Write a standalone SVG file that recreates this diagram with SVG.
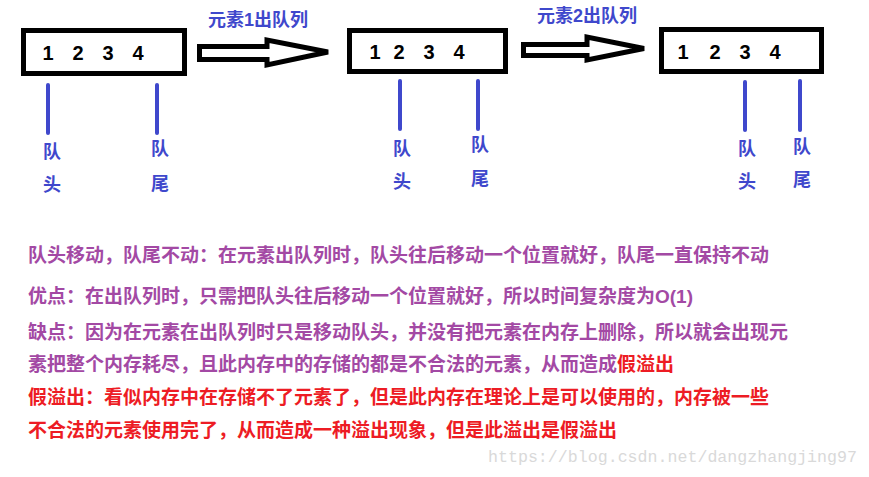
<svg xmlns="http://www.w3.org/2000/svg" width="869" height="477" viewBox="0 0 869 477">
<style>
.box{fill:#fff;stroke:#000;stroke-width:5}
.num{font-family:"Liberation Sans","Noto Sans",sans-serif;font-weight:bold;font-size:20px;fill:#000;text-anchor:middle}
.ptr{stroke:#3f48cc;stroke-width:4;stroke-linecap:round}
.lbl{font-family:"Liberation Sans","Noto Sans CJK SC",sans-serif;font-weight:bold;font-size:18px;fill:#3f48cc;text-anchor:middle}
.arrow{fill:#fff;stroke:#000;stroke-width:5;stroke-linejoin:miter}
.note{font-family:"Liberation Sans","Noto Sans CJK SC",sans-serif;font-weight:bold;font-size:19px}
.p{fill:#a349a4}
.r{fill:#ed1c24}
.wm{font-family:"Liberation Mono",monospace;font-size:16.5px;fill:#d9d9d9}
</style>
<rect width="869" height="477" fill="#fff"/>

<g id="queue1">
<rect class="box" x="23.5" y="30.5" width="161" height="43"/>
<text class="num" x="48" y="60">1</text>
<text class="num" x="78" y="60">2</text>
<text class="num" x="108" y="60">3</text>
<text class="num" x="138" y="60">4</text>
<line class="ptr" x1="48" y1="85" x2="48" y2="133"/>
<line class="ptr" x1="157" y1="85" x2="157" y2="133"/>
<text class="lbl" x="52" y="158">队</text>
<text class="lbl" x="52" y="191">头</text>
<text class="lbl" x="160" y="155">队</text>
<text class="lbl" x="160" y="190">尾</text>
</g>

<g id="queue2">
<rect class="box" x="349.5" y="30.5" width="156" height="41"/>
<text class="num" x="375" y="59">1</text>
<text class="num" x="399" y="59">2</text>
<text class="num" x="429" y="59">3</text>
<text class="num" x="459" y="59">4</text>
<line class="ptr" x1="400" y1="81" x2="400" y2="129"/>
<line class="ptr" x1="478" y1="81" x2="478" y2="129"/>
<text class="lbl" x="402" y="155">队</text>
<text class="lbl" x="402" y="188">头</text>
<text class="lbl" x="480" y="151">队</text>
<text class="lbl" x="480" y="185">尾</text>
</g>

<g id="queue3">
<rect class="box" x="661.5" y="29.5" width="160" height="42"/>
<text class="num" x="683" y="59">1</text>
<text class="num" x="715" y="59">2</text>
<text class="num" x="745" y="59">3</text>
<text class="num" x="775" y="59">4</text>
<line class="ptr" x1="745" y1="82" x2="745" y2="130"/>
<line class="ptr" x1="800" y1="81" x2="800" y2="130"/>
<text class="lbl" x="747" y="155">队</text>
<text class="lbl" x="747" y="188">头</text>
<text class="lbl" x="802" y="153">队</text>
<text class="lbl" x="802" y="186">尾</text>
</g>

<g id="connectors">
<g id="arrow1">
<polygon class="arrow" points="199.5,46.5 267,46.5 267,40 328,52 267,65 267,59.5 199.5,59.5"/>
<text class="lbl" x="258" y="26">元素1出队列</text>
</g>
<g id="arrow2">
<polygon class="arrow" points="523.5,44.5 587,44.5 587,37 644,48.5 587,60 587,55.5 523.5,55.5"/>
<text class="lbl" x="587" y="22">元素2出队列</text>
</g>
</g>

<g id="notes">
<text class="note p" x="28" y="262">队头移动，队尾不动：在元素出队列时，队头往后移动一个位置就好，队尾一直保持不动</text>
<text class="note p" x="28" y="303">优点：在出队列时，只需把队头往后移动一个位置就好，所以时间复杂度为O(1)</text>
<text class="note p" x="28" y="339">缺点：因为在元素在出队列时只是移动队头，并没有把元素在内存上删除，所以就会出现元</text>
<text class="note p" x="28" y="371">素把整个内存耗尽，且此内存中的存储的都是不合法的元素，从而造成<tspan class="r">假溢出</tspan></text>
<text class="note r" x="28" y="404">假溢出：看似内存中在存储不了元素了，但是此内存在理论上是可以使用的，内存被一些</text>
<text class="note r" x="28" y="437">不合法的元素使用完了，从而造成一种溢出现象，但是此溢出是假溢出</text>
</g>

<text class="wm" x="488" y="462" textLength="369" lengthAdjust="spacingAndGlyphs">https://blog.csdn.net/dangzhangjing97</text>
</svg>
